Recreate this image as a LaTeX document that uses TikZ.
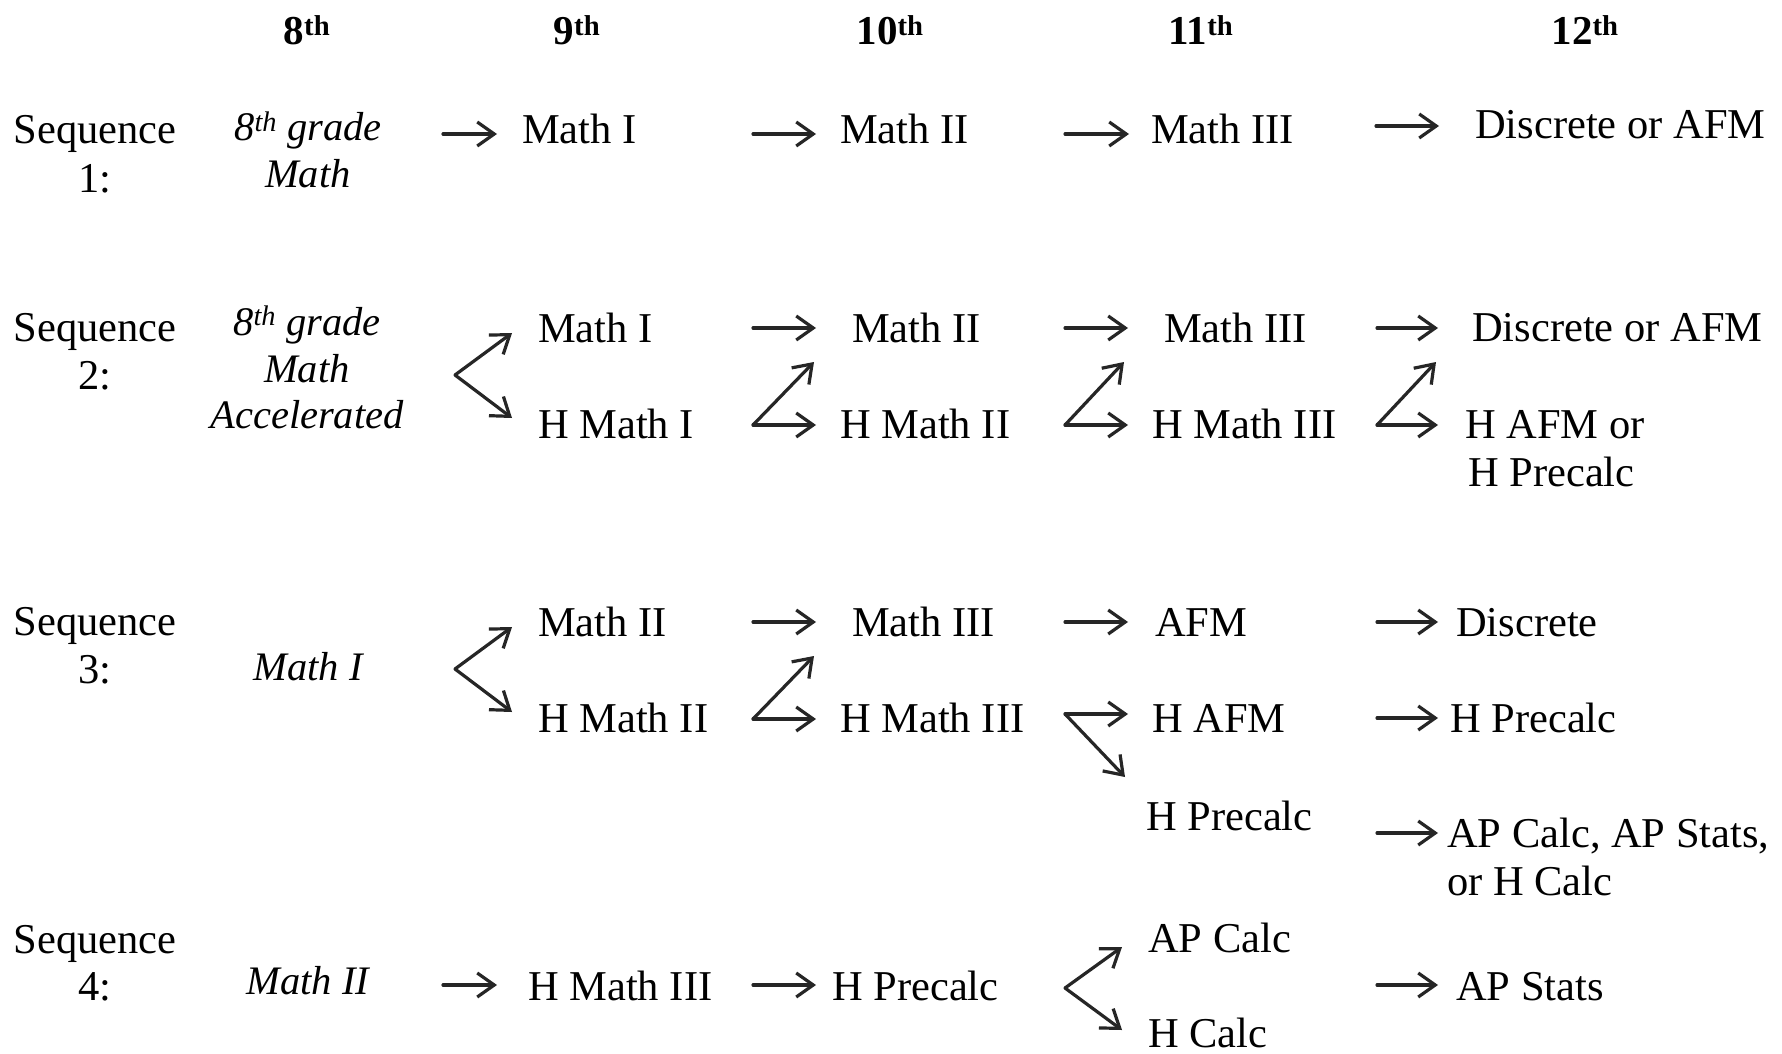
\documentclass[tikz,border=0pt]{standalone}
\usepackage{fontspec}
\setmainfont{Liberation Serif}
\usetikzlibrary{arrows.meta}
\tikzset{
  txt/.style={inner sep=0pt, font=\fontsize{42.5}{50}\selectfont},
  lbl/.style={txt, anchor=base west},
  ctr/.style={txt, anchor=base},
  itl/.style={txt, anchor=base, font=\fontsize{40.5}{48}\selectfont\itshape},
  hdr/.style={txt, anchor=base, font=\fontsize{41}{48}\selectfont\bfseries},
  arr/.style={-{Straight Barb[length=17pt,width=24pt]}, line width=3.2pt, draw=black!85, line cap=round, line join=round}
}
\begin{document}
\begin{tikzpicture}[x=1pt,y=-1pt]
\fill[white] (0,0) rectangle (1782,1054);
\useasboundingbox (0,0) rectangle (1782,1054);

% headers
\node[hdr] (h8)  at (307,45)  {8\textsuperscript{th}};
\node[hdr] (h9)  at (577,45)  {9\textsuperscript{th}};
\node[hdr] (h10) at (890,45)  {10\textsuperscript{th}};
\node[hdr] (h11) at (1201,45) {11\textsuperscript{th}};
\node[hdr] (h12) at (1585,45) {12\textsuperscript{th}};

% sequence labels
\node[ctr] (s1)  at (95,143)  {Sequence};
\node[ctr] (s1n) at (95,192)  {1:};
\node[ctr] (s2)  at (95,341)  {Sequence};
\node[ctr] (s2n) at (95,389)  {2:};
\node[ctr] (s3)  at (95,635)  {Sequence};
\node[ctr] (s3n) at (95,683)  {3:};
\node[ctr] (s4)  at (95,953)  {Sequence};
\node[ctr] (s4n) at (95,1000) {4:};

% ---------- Row 1 ----------
\node[itl] (r1a) at (308,141) {8\textsuperscript{th} grade};
\node[itl] (r1b) at (308,187) {Math};
\node[lbl] (r1m1) at (522,143)  {Math I};
\node[lbl] (r1m2) at (840,143)  {Math II};
\node[lbl] (r1m3) at (1151,143) {Math III};
\node[lbl] (r1d)  at (1475,139) {Discrete or AFM};
\coordinate (r1A1) at (443,134);  \coordinate (r1A2) at (497,134);
\coordinate (r1B1) at (753,134);  \coordinate (r1B2) at (816,134);
\coordinate (r1C1) at (1065,134); \coordinate (r1C2) at (1129,134);
\coordinate (r1D1) at (1376,126); \coordinate (r1D2) at (1439,126);
\draw[arr] (r1A1) -- (r1A2);
\draw[arr] (r1B1) -- (r1B2);
\draw[arr] (r1C1) -- (r1C2);
\draw[arr] (r1D1) -- (r1D2);

% ---------- Row 2 ----------
\node[itl] (r2a) at (307,335) {8\textsuperscript{th} grade};
\node[itl] (r2b) at (307,382) {Math};
\node[itl] (r2c) at (307,428) {Accelerated};
\node[lbl] (r2m1)  at (538,342)  {Math I};
\node[lbl] (r2h1)  at (538,438)  {H Math I};
\node[lbl] (r2m2)  at (852,342)  {Math II};
\node[lbl] (r2h2)  at (840,438)  {H Math II};
\node[lbl] (r2m3)  at (1164,342) {Math III};
\node[lbl] (r2h3)  at (1152,438) {H Math III};
\node[lbl] (r2d)   at (1472,341) {Discrete or AFM};
\node[lbl] (r2ha)  at (1465,438) {H AFM or};
\node[lbl] (r2hp)  at (1468,486) {H Precalc};
% fork
\coordinate (r2F) at (455,375); \coordinate (r2Fu) at (512,333); \coordinate (r2Fl) at (512,418);
\draw[arr] (r2F) -- (r2Fu);
\draw[arr] (r2F) -- (r2Fl);
% column B
\coordinate (r2B1) at (753,328); \coordinate (r2B2) at (816,328);
\draw[arr] (r2B1) -- (r2B2);
\coordinate (r2Bz) at (753,425); \coordinate (r2Bzu) at (814,362); \coordinate (r2Bzr) at (816,425);
\draw[arr] (r2Bz) -- (r2Bzu);
\draw[arr] (r2Bz) -- (r2Bzr);
% column C
\coordinate (r2C1) at (1065,328); \coordinate (r2C2) at (1128,328);
\draw[arr] (r2C1) -- (r2C2);
\coordinate (r2Cz) at (1065,425); \coordinate (r2Czu) at (1124,362); \coordinate (r2Czr) at (1128,425);
\draw[arr] (r2Cz) -- (r2Czu);
\draw[arr] (r2Cz) -- (r2Czr);
% column D
\coordinate (r2D1) at (1377,328); \coordinate (r2D2) at (1438,328);
\draw[arr] (r2D1) -- (r2D2);
\coordinate (r2Dz) at (1377,425); \coordinate (r2Dzu) at (1436,362); \coordinate (r2Dzr) at (1438,425);
\draw[arr] (r2Dz) -- (r2Dzu);
\draw[arr] (r2Dz) -- (r2Dzr);

% ---------- Row 3 ----------
\node[itl] (r3a) at (308,680) {Math I};
\node[lbl] (r3m2)  at (538,636)  {Math II};
\node[lbl] (r3h2)  at (538,732)  {H Math II};
\node[lbl] (r3m3)  at (852,636)  {Math III};
\node[lbl] (r3h3)  at (840,732)  {H Math III};
\node[lbl] (r3afm) at (1155,636) {AFM};
\node[lbl] (r3hafm) at (1152,732) {H AFM};
\node[lbl] (r3hpc) at (1146,830) {H Precalc};
\node[lbl] (r3dis) at (1456,636) {Discrete};
\node[lbl] (r3hp2) at (1450,732) {H Precalc};
\node[lbl] (r3ap1) at (1447,847) {AP Calc, AP Stats,};
\node[lbl] (r3ap2) at (1447,895) {or H Calc};
% fork
\coordinate (r3F) at (455,669); \coordinate (r3Fu) at (512,627); \coordinate (r3Fl) at (512,712);
\draw[arr] (r3F) -- (r3Fu);
\draw[arr] (r3F) -- (r3Fl);
% column B
\coordinate (r3B1) at (753,622); \coordinate (r3B2) at (816,622);
\draw[arr] (r3B1) -- (r3B2);
\coordinate (r3Bz) at (753,719); \coordinate (r3Bzu) at (814,656); \coordinate (r3Bzr) at (816,719);
\draw[arr] (r3Bz) -- (r3Bzu);
\draw[arr] (r3Bz) -- (r3Bzr);
% column C
\coordinate (r3C1) at (1065,622); \coordinate (r3C2) at (1128,622);
\draw[arr] (r3C1) -- (r3C2);
\coordinate (r3Cz) at (1065,714); \coordinate (r3Czr) at (1128,714); \coordinate (r3Czd) at (1125,777);
\draw[arr] (r3Cz) -- (r3Czr);
\draw[arr] (r3Cz) -- (r3Czd);
% column D
\coordinate (r3D1) at (1377,622); \coordinate (r3D2) at (1438,622);
\draw[arr] (r3D1) -- (r3D2);
\coordinate (r3E1) at (1377,718); \coordinate (r3E2) at (1438,718);
\draw[arr] (r3E1) -- (r3E2);
\coordinate (r3G1) at (1377,833); \coordinate (r3G2) at (1438,833);
\draw[arr] (r3G1) -- (r3G2);

% ---------- Row 4 ----------
\node[itl] (r4a) at (308,994) {Math II};
\node[lbl] (r4h3)  at (528,1000)  {H Math III};
\node[lbl] (r4hp)  at (832,1000)  {H Precalc};
\node[lbl] (r4apc) at (1148,952)  {AP Calc};
\node[lbl] (r4hc)  at (1148,1047) {H Calc};
\node[lbl] (r4aps) at (1456,1000) {AP Stats};
\coordinate (r4A1) at (443,985); \coordinate (r4A2) at (497,985);
\draw[arr] (r4A1) -- (r4A2);
\coordinate (r4B1) at (753,985); \coordinate (r4B2) at (816,985);
\draw[arr] (r4B1) -- (r4B2);
\coordinate (r4F) at (1065,988); \coordinate (r4Fu) at (1122,947); \coordinate (r4Fl) at (1122,1030);
\draw[arr] (r4F) -- (r4Fu);
\draw[arr] (r4F) -- (r4Fl);
\coordinate (r4D1) at (1377,985); \coordinate (r4D2) at (1438,985);
\draw[arr] (r4D1) -- (r4D2);
\end{tikzpicture}
\end{document}
